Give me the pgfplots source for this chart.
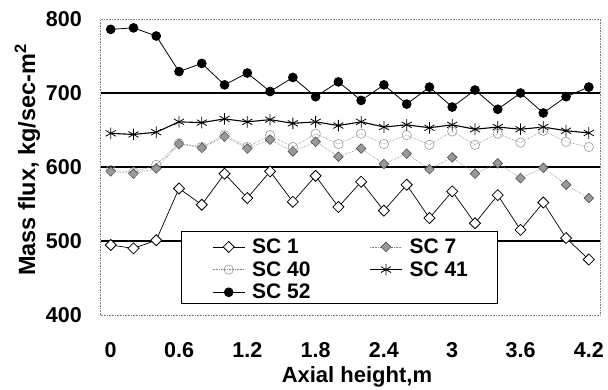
\documentclass[border=0pt]{standalone}
\usepackage{fontspec}
\setmainfont{Liberation Sans}
\usepackage{pgfplots}
\pgfplotsset{compat=1.18}
\begin{document}
\begin{tikzpicture}
\path[use as bounding box] (-100.7pt,-75pt) rectangle (507.3pt,315pt);
\begin{axis}[
  at={(0,0)}, anchor=south west,
  scale only axis, width=499.5pt, height=296pt,
  xmin=-0.088, xmax=4.3, ymin=400, ymax=800,
  xtick={0,0.6,1.2,1.8,2.4,3,3.6,4.2},
  xticklabels={0,0.6,1.2,1.8,2.4,3,3.6,4.2},
  ytick={400,500,600,700,800},
  yticklabels={400,500,600,700,800},
  extra y ticks={500,600,700},
  extra y tick labels={},
  extra y tick style={grid=major, major grid style={black, line width=1.1pt}},
  major tick length=0pt,
  axis line style={gray, densely dotted, line width=0.6pt},
  /pgf/number format/assume math mode=true,
  tick label style={font=\fontsize{21.5}{24}\selectfont\bfseries, inner sep=0pt},
  yticklabel style={anchor=east, xshift=-18.7pt},
  xticklabel style={anchor=base, yshift=-42.7pt},
  xlabel={Axial height,m},
  ylabel={Mass flux, kg/sec-m\textsuperscript{2}},
  xlabel style={font=\fontsize{22}{26}\selectfont\bfseries, at={(axis description cs:0.513,-0.2264)}, anchor=base},
  ylabel style={font=\fontsize{23.5}{27}\selectfont\bfseries, at={(axis description cs:-0.1314,0.524)}, anchor=base},
  legend columns=2,
  legend cell align=left,
  legend style={at={(axis description cs:0.2230,0.2714)}, anchor=north west,
    draw=none, fill=none, font=\fontsize{21}{24}\selectfont\bfseries,
    inner xsep=0pt, inner ysep=2pt, row sep=2.5pt, column sep=0pt,
    /tikz/every even column/.append style={column sep=57pt}},
  every axis plot/.append style={legend image code/.code={
    \draw[mark repeat=2,mark phase=2,#1] plot coordinates {(0pt,0pt)(16pt,0pt)(32pt,0pt)};}},
]
\draw[black, line width=0.9pt, fill=white] (axis description cs:0.1615,0.2815) rectangle (axis description cs:0.7934,0.0405);
\addplot[black, line width=0.7pt, mark=square*, mark size=3.9pt,
  mark options={rotate=45, fill=white, solid, line width=0.8pt}] coordinates {
(0,494.6)(0.2,490)(0.4,501)(0.6,571)(0.8,549)(1.0,591)(1.2,558)(1.4,594)(1.6,553)(1.8,588)
(2.0,546)(2.2,580)(2.4,541)(2.6,576)(2.8,531)(3.0,567)(3.2,524)(3.4,562)(3.6,515)(3.8,552)
(4.0,504)(4.2,475)};
\addlegendentry{\hspace{5pt}SC 1}
\addplot[gray, densely dotted, line width=0.6pt, mark=square*, mark size=3.4pt,
  mark options={rotate=45, fill=gray!80, draw=gray!60!black, solid}] coordinates {
(0,594)(0.2,591)(0.4,598)(0.6,631)(0.8,626)(1.0,641)(1.2,625)(1.4,637)(1.6,621)(1.8,634)
(2.0,614)(2.2,625)(2.4,604)(2.6,618)(2.8,597)(3.0,613)(3.2,591)(3.4,605)(3.6,585)(3.8,599)
(4.0,576)(4.2,558)};
\addlegendentry{\hspace{5pt}SC 7}
\addplot[gray, densely dotted, line width=0.6pt, mark=o, mark size=4.7pt,
  mark options={solid, fill=white, draw=gray!80}] coordinates {
(0,596)(0.2,593)(0.4,603)(0.6,632)(0.8,627)(1.0,643)(1.2,627)(1.4,643)(1.6,627)(1.8,645)
(2.0,631)(2.2,645)(2.4,631)(2.6,643)(2.8,630)(3.0,648)(3.2,630)(3.4,645)(3.6,633)(3.8,649)
(4.0,634)(4.2,627)};
\addlegendentry{\hspace{5pt}SC 40}
\addplot[black, line width=1.1pt, mark=asterisk, mark size=5.8pt,
  mark options={solid, line width=0.8pt}] coordinates {
(0,645.5)(0.2,644)(0.4,647)(0.6,661)(0.8,660)(1.0,665)(1.2,661)(1.4,664)(1.6,659)(1.8,661)
(2.0,656)(2.2,661)(2.4,654)(2.6,657)(2.8,653)(3.0,657)(3.2,651)(3.4,654)(3.6,651)(3.8,654)
(4.0,649)(4.2,646)};
\addlegendentry{\hspace{5pt}SC 41}
\addplot[black, line width=0.8pt, mark=*, mark size=4.4pt, mark options={solid}] coordinates {
(0,786)(0.2,788)(0.4,777)(0.6,729)(0.8,740)(1.0,711)(1.2,727)(1.4,702)(1.6,721)(1.8,695)
(2.0,715)(2.2,690)(2.4,711)(2.6,685)(2.8,708)(3.0,681)(3.2,704)(3.4,678)(3.6,700)(3.8,673)
(4.0,695)(4.2,708)};
\addlegendentry{\hspace{5pt}SC 52}
\end{axis}
\end{tikzpicture}
\end{document}
